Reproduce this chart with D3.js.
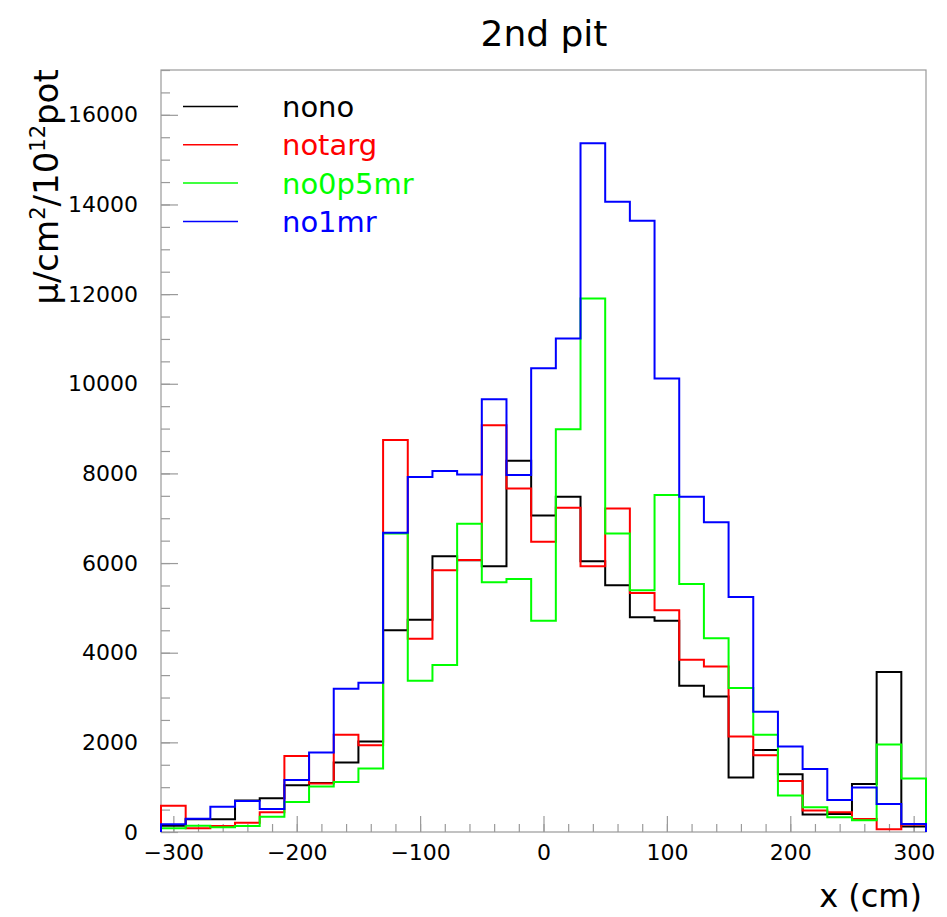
<!DOCTYPE html>
<html>
<head>
<meta charset="utf-8">
<script src="https://cdn.jsdelivr.net/npm/d3@7"></script>
<style>
  body { margin: 0; background: #fff; }
  svg { display: block; font-family: "DejaVu Sans", sans-serif; }
</style>
</head>
<body>
<div id="viz"></div>
<script>
'use strict';

// bin centres (cm), 20 cm wide bins from -310 to 310
const binCenters = d3.range(-300, 301, 20);

const nono = [141, 283, 283, 700, 753, 1043, 1095, 1549, 2019, 4499, 4737, 6153, 6060, 5929, 8283, 7061,
    7479, 6041, 5505, 4790, 4715, 3263, 3024, 1214, 1832, 1289, 390, 402, 1073, 3568, 120];
const notarg = [588, 82, 134, 209, 440, 1698, 1080, 2168, 1937, 8745, 4313, 5840, 6070, 9073, 7665, 6473,
    7233, 5929, 7218, 5333, 4946, 3844, 3695, 2130, 1713, 1140, 480, 440, 290, 60, 170];
const no0p5mr = [82, 141, 105, 134, 343, 670, 1013, 1117, 1415, 6660, 3374, 3724, 6875, 5571, 5646, 4715,
    8983, 11903, 6659, 5393, 7516, 5534, 4320, 3210, 2168, 812, 551, 328, 260, 1951, 1192];
const no1mr = [172, 298, 566, 693, 514, 1162, 1773, 3196, 3330, 6674, 7918, 8052, 7978, 9654, 7962, 10346,
    11009, 15367, 14063, 13638, 10116, 7479, 6913, 5244, 2682, 1907, 1408, 715, 991, 626, 180];

const xTicks = [-300, -200, -100, 0, 100, 200, 300];
const yTicks = [0, 2000, 4000, 6000, 8000, 10000, 12000, 14000, 16000];

const series = [
    { label: 'nono', values: nono, color: '#000000' },
    { label: 'notarg', values: notarg, color: '#ff0000' },
    { label: 'no0p5mr', values: no0p5mr, color: '#00ff00' },
    { label: 'no1mr', values: no1mr, color: '#0000ff' }
];

const W = 947, H = 917;
const frame = { left: 161, right: 926, top: 70, bottom: 832 };
const binWidth = 20;

const svg = d3.select('#viz').append('svg')
    .attr('width', W)
    .attr('height', H);

const xScale = d3.scaleLinear().domain([-310, 310]).range([frame.left, frame.right]);
const yScale = d3.scaleLinear().domain([0, 17000]).range([frame.bottom, frame.top]);

const axisColor = '#9a9a9a';

// frame
svg.append('rect')
    .attr('x', frame.left)
    .attr('y', frame.top)
    .attr('width', frame.right - frame.left)
    .attr('height', frame.bottom - frame.top)
    .attr('fill', 'none')
    .attr('stroke', axisColor)
    .attr('stroke-width', 1.2);

// x axis: minor then major ticks (inside the frame)
const xMinor = svg.append('g')
    .attr('transform', `translate(0,${frame.bottom})`)
    .call(d3.axisBottom(xScale).tickValues(d3.range(-300, 301, 20)).tickSize(-8).tickFormat(''));
const xMajor = svg.append('g')
    .attr('class', 'x axis')
    .attr('transform', `translate(0,${frame.bottom})`)
    .call(d3.axisBottom(xScale).tickValues(xTicks).tickSize(-16).tickPadding(12).tickFormat(d3.format('d')));

// y axis
const yMinor = svg.append('g')
    .attr('transform', `translate(${frame.left},0)`)
    .call(d3.axisLeft(yScale).tickValues(d3.range(0, 17001, 500)).tickSize(-9).tickFormat(''));
const yMajor = svg.append('g')
    .attr('class', 'y axis')
    .attr('transform', `translate(${frame.left},0)`)
    .call(d3.axisLeft(yScale).tickValues(yTicks).tickSize(-17).tickPadding(23).tickFormat(d3.format('d')));

[xMinor, xMajor, yMinor, yMajor].forEach(g => {
    g.select('.domain').remove();
    g.selectAll('line').attr('stroke', axisColor).attr('stroke-width', 1.2);
    g.selectAll('text').attr('fill', '#000').style('font-size', '22px')
        .style('font-family', '"DejaVu Sans", sans-serif');
});

// histograms drawn as outlines, ROOT style
const plot = svg.append('g');
const line = d3.line()
    .x(d => xScale(d.x))
    .y(d => yScale(d.v))
    .curve(d3.curveStepAfter);

series.forEach(s => {
    const pts = [{ x: binCenters[0] - binWidth / 2, v: 0 }];
    s.values.forEach((v, i) => pts.push({ x: binCenters[i] - binWidth / 2, v: v }));
    const last = binCenters[binCenters.length - 1] + binWidth / 2;
    pts.push({ x: last, v: s.values[s.values.length - 1] });
    pts.push({ x: last, v: 0 });
    plot.append('path')
        .datum(pts)
        .attr('fill', 'none')
        .attr('stroke', s.color)
        .attr('stroke-width', 2)
        .attr('d', line);
});

// legend
const legend = svg.append('g');
series.forEach((s, i) => {
    const y = 106.5 + i * 38.3;
    legend.append('line')
        .attr('x1', 183).attr('x2', 238)
        .attr('y1', y).attr('y2', y)
        .attr('stroke', s.color)
        .attr('stroke-width', 1.5);
    legend.append('text')
        .attr('x', 282)
        .attr('y', y + 10.5)
        .attr('fill', s.color)
        .style('font-size', '29px')
        .text(s.label);
});

// title
svg.append('text')
    .attr('x', 544)
    .attr('y', 46)
    .attr('text-anchor', 'middle')
    .style('font-size', '36px')
    .text('2nd pit');

// x label
svg.append('text')
    .attr('x', 922)
    .attr('y', 907)
    .attr('text-anchor', 'end')
    .style('font-size', '32px')
    .text('x (cm)');

// y label
const yLabel = svg.append('text')
    .attr('transform', 'translate(58,187) rotate(-90)')
    .attr('text-anchor', 'middle')
    .style('font-size', '34px');
yLabel.append('tspan').text('\u03bc/cm');
yLabel.append('tspan').attr('dy', -13).style('font-size', '21px').text('2');
yLabel.append('tspan').attr('dy', 13).text('/10');
yLabel.append('tspan').attr('dy', -13).style('font-size', '21px').text('12');
yLabel.append('tspan').attr('dy', 13).text('pot');
</script>
</body>
</html>
